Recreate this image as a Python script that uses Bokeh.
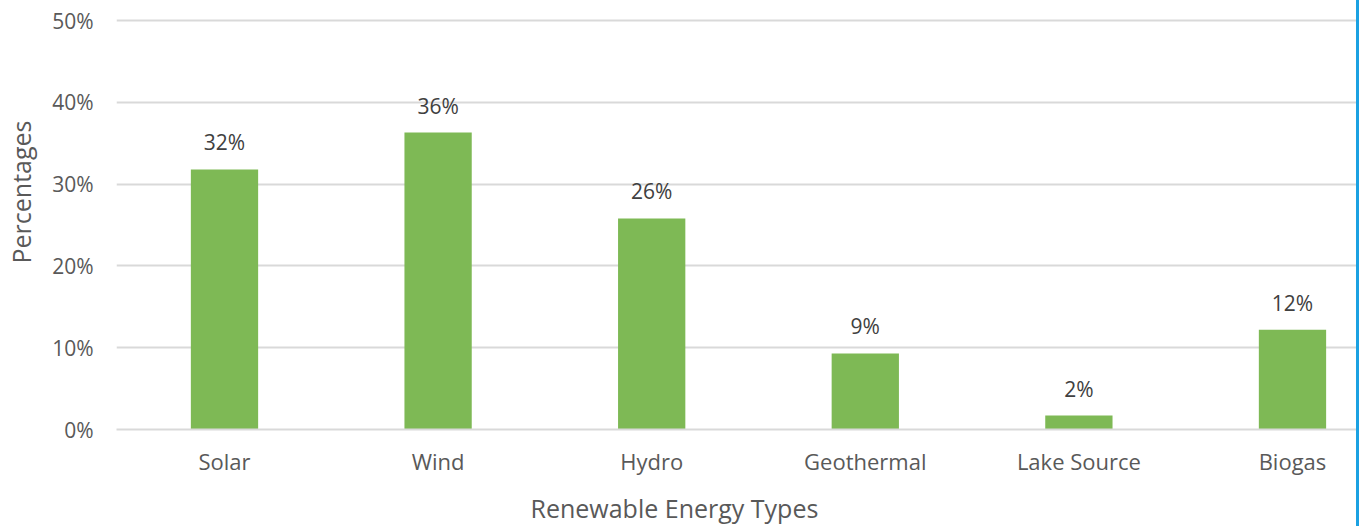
from bokeh.plotting import figure
from bokeh.models import Range1d, FixedTicker, PrintfTickFormatter, ColumnDataSource, Title
from bokeh.core.properties import value
from bokeh.embed import file_html
from bokeh.resources import INLINE

categories = ["Solar", "Wind", "Hydro", "Geothermal", "Lake Source", "Biogas"]
percentages = [31.8, 36.3, 25.8, 9.3, 1.7, 12.2]
y_ticks = [0, 10, 20, 30, 40, 50]
x_title = "Renewable Energy Types"
y_title = "Percentages"

FONT = "Open Sans"
TICK_COLOR = "#595959"
GRID_COLOR = "#D9D9D9"
BAR_COLOR = "#7EB955"

xs = list(range(len(categories)))
src = ColumnDataSource(dict(x=xs, top=percentages,
                            label=[f"{round(v)}%" for v in percentages]))

p = figure(frame_width=1240, frame_height=411, output_backend="svg", toolbar_location=None,
           x_range=Range1d(-0.5056, 5.2997), y_range=Range1d(0, 50.25),
           min_border_left=100, min_border_right=0, min_border_top=18,
           min_border_bottom=95)
p.outline_line_color = None
p.styles = {"border-right": "3px solid #1BA1E2", "margin-left": "-10px"}

p.vbar(x="x", top="top", bottom=0, width=0.315, source=src,
       fill_color=BAR_COLOR, line_color=None)
p.text(x="x", y="top", text="label", source=src, text_align="center",
       text_baseline="alphabetic", y_offset=-27, text_font=value(FONT),
       text_font_size="21px", text_color="#404040")

p.xgrid.grid_line_color = None
p.ygrid.grid_line_color = GRID_COLOR
p.ygrid.grid_line_width = 2
p.ygrid.ticker = FixedTicker(ticks=y_ticks)

p.yaxis.ticker = FixedTicker(ticks=y_ticks)
p.yaxis.formatter = PrintfTickFormatter(format="%d%%")
p.yaxis.axis_line_color = None
p.yaxis.major_tick_line_color = None
p.yaxis.minor_tick_line_color = None
p.yaxis.major_tick_out = 0
p.yaxis.major_label_standoff = 23
p.yaxis.major_label_text_font_size = "21px"

p.xaxis.ticker = FixedTicker(ticks=xs)
p.xaxis.major_label_overrides = {i: c for i, c in zip(xs, categories)}
p.xaxis.axis_line_color = GRID_COLOR
p.xaxis.axis_line_width = 2
p.xaxis.major_tick_line_color = None
p.xaxis.minor_tick_line_color = None
p.xaxis.major_tick_out = 0
p.xaxis.major_label_standoff = 16
p.xaxis.major_label_text_font_size = "22px"

for ax in (p.xaxis[0], p.yaxis[0]):
    ax.major_label_text_font = FONT
    ax.major_label_text_color = TICK_COLOR

p.add_layout(Title(text=x_title, align="left", offset=414, standoff=21,
                   text_font=FONT, text_font_size="25px", text_font_style="normal",
                   text_color=TICK_COLOR), "below")
p.add_layout(Title(text=y_title, align="left", offset=166, standoff=23,
                   text_font=FONT, text_font_size="25px", text_font_style="normal",
                   text_color=TICK_COLOR), "left")

open("out.html", "w").write(file_html(p, INLINE))
